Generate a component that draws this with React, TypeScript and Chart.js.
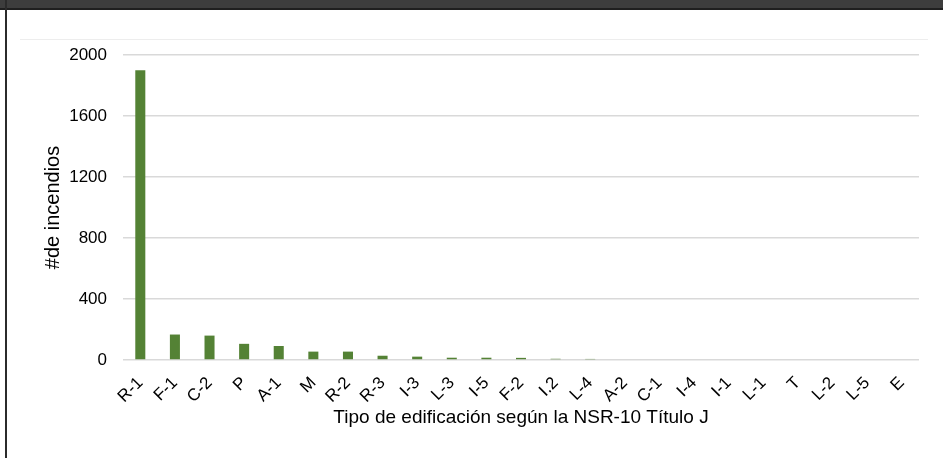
import React, { useEffect, useRef } from "react";
import { Chart, registerables } from "chart.js";

Chart.register(...registerables);

const categories = ["R-1", "F-1", "C-2", "P", "A-1", "M", "R-2", "R-3", "I-3", "L-3", "I-5", "F-2", "I.2", "L-4", "A-2", "C-1", "I-4", "I-1", "L-1", "T", "L-2", "L-5", "E"];
const incendios = [1900, 167, 160, 106, 92, 55, 55, 28, 22, 15, 15, 14, 8, 7, 0, 0, 0, 0, 0, 0, 0, 0, 0];
const yTicks = [0, 400, 800, 1200, 1600, 2000];
const xTitle = "Tipo de edificación según la NSR-10 Título J";
const yTitle = "#de incendios";

const W = 943;
const H = 458;
const AREA = { left: 123, right: 919, top: 55, bottom: 360 };

const framePlugin = {
  id: "frame",
  beforeDraw(chart: any) {
    const ctx = chart.ctx;
    ctx.save();
    ctx.fillStyle = "#ffffff";
    ctx.fillRect(0, 0, W, H);
    ctx.strokeStyle = "#ededed";
    ctx.lineWidth = 1;
    ctx.beginPath();
    ctx.moveTo(20, 39.5);
    ctx.lineTo(928, 39.5);
    ctx.stroke();
    ctx.restore();
  },
  afterDraw(chart: any) {
    const ctx = chart.ctx;
    ctx.save();
    ctx.fillStyle = "#3d3d3d";
    ctx.fillRect(0, 0, W, 8);
    ctx.fillStyle = "#1f1f1f";
    ctx.fillRect(0, 8, W, 2);
    ctx.fillStyle = "#2b2b2b";
    ctx.fillRect(5, 0, 2, H);
    ctx.restore();
  },
};

export default function App() {
  const ref = useRef<HTMLCanvasElement>(null);
  useEffect(() => {
    document.body.style.margin = "0";
    const chart = new Chart(ref.current as HTMLCanvasElement, {
      type: "bar",
      data: {
        labels: categories,
        datasets: [
          {
            data: incendios,
            backgroundColor: "#548235",
            borderWidth: 0,
            barPercentage: 0.29,
            categoryPercentage: 1,
          },
        ],
      },
      options: {
        responsive: false,
        animation: false,
        devicePixelRatio: 1,
        layout: { padding: { left: 0, right: W - AREA.right, top: AREA.top, bottom: 0 } },
        plugins: { legend: { display: false }, tooltip: { enabled: false } },
        scales: {
          x: {
            grid: { display: false, drawTicks: false },
            border: { display: false },
            ticks: {
              color: "#000000",
              font: { family: "'Liberation Sans', Arial, sans-serif", size: 17 },
              minRotation: 45,
              maxRotation: 45,
              autoSkip: false,
              padding: 13,
            },
            title: {
              display: true,
              text: xTitle,
              color: "#000000",
              font: { family: "'Liberation Sans', Arial, sans-serif", size: 19 },
              padding: { top: 0, bottom: 40 - 11.4 },
            },
            afterFit(scale: any) {
              scale.height = H - AREA.bottom;
            },
          },
          y: {
            min: 0,
            max: 2000,
            afterBuildTicks(scale: any) {
              scale.ticks = yTicks.map((v) => ({ value: v }));
            },
            grid: { color: "#d9d9d9", lineWidth: 1.5, drawTicks: false },
            border: { display: false },
            ticks: {
              color: "#000000",
              font: { family: "'Liberation Sans', Arial, sans-serif", size: 17 },
              padding: 16,
              callback: (v: any) => String(v),
            },
            title: {
              display: true,
              text: yTitle,
              color: "#000000",
              font: { family: "'Liberation Sans', Arial, sans-serif", size: 20 },
              padding: { top: 53 - 12, bottom: 0 },
            },
            afterFit(scale: any) {
              scale.width = AREA.left;
            },
          },
        },
      },
      plugins: [framePlugin],
    });
    return () => chart.destroy();
  }, []);
  return (
    <div style={{ position: "fixed", left: 0, top: 0, width: W, height: H }}>
      <canvas ref={ref} width={W} height={H} style={{ display: "block" }} />
    </div>
  );
}
